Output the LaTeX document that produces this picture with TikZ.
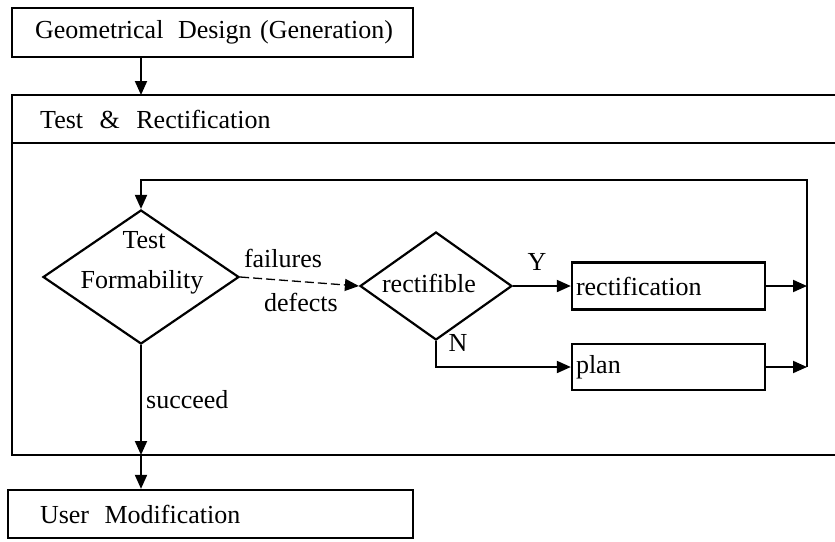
\documentclass[tikz,border=0pt]{standalone}
\usepackage{fontspec}
\setmainfont{Liberation Serif}
\usetikzlibrary{shapes.geometric,arrows.meta,calc}

\begin{document}
\begin{tikzpicture}[x=1pt,y=-1pt,
  every node/.style={font=\fontsize{26}{31}\selectfont, inner sep=0pt},
  box/.style={draw, line width=2.3pt, rectangle},
  decision/.style={draw, line width=2.2pt, diamond, inner sep=0pt},
  frame/.style={line width=2.5pt},
  link/.style={line width=1.9pt, -{Triangle[length=14pt,width=12pt]}},
  lbl/.style={anchor=center}
]
\useasboundingbox (0,0) rectangle (835,541);

% top and bottom process boxes
\node[box, minimum width=401pt, minimum height=49pt, inner xsep=23pt] (gd) at (212.5,32.5)
  {\makebox[355pt][l]{Geometrical\hspace{8pt} Design\hspace{2pt} (Generation)}};
\node[box, minimum width=405pt, minimum height=48pt, inner xsep=32pt] (um) at (210.5,514)
  {\makebox[341pt][l]{User\hspace{9pt} Modification}};

% enclosing frame of the test stage
\draw[frame] (835,95) -- (12,95) -- (12,455) -- (835,455);
\draw[frame] (12,143) -- (835,143);
\node[anchor=west] (hdr) at (40,119) {Test\hspace{10pt} \&\hspace{10pt} Rectification};

% decisions
\node[decision, minimum width=196pt, minimum height=134pt] (d1) at (141,277) {};
\node[anchor=base] (t1) at (144,248) {Test};
\node[anchor=base] (t2) at (142,288) {Formability};

\node[decision, minimum width=152pt, minimum height=108pt] (d2) at (436,286) {};
\node[lbl] (t3) at (429,283) {rectifible};

% action boxes
\node[box, minimum width=193pt, minimum height=47pt, inner xsep=4pt] (rc) at (668.5,286)
  {\makebox[185pt][l]{rectification}};
\node[box, minimum width=193pt, minimum height=46pt, inner xsep=4pt] (pl) at (668.5,367)
  {\makebox[185pt][l]{plan}};

% helper points
\coordinate (topin) at (141,95);
\coordinate (fbl) at (141,180);
\coordinate (fbr) at (807,180);
\coordinate (outb) at (141,455);

% connectors
\draw[link] (gd.south -| topin) -- (topin);
\draw[link] (pl.east -| fbr) -- (fbr) -- (fbl) -- (d1.north);
\draw[link] (rc.east) -- (rc.east -| fbr);
\draw[link] (pl.east) -- (pl.east -| fbr);
\draw[link, line width=1.3pt, dash pattern=on 9pt off 4pt] (d1.east) -- (d2.west);
\draw[link] (d2.east) -- (rc.west);
\draw[link] (d2.south) |- (pl.west);
\draw[link] (d1.south) -- (outb);
\draw[link] (outb) -- (um.north -| outb);

% connector labels
\node[lbl] (lf) at (283,258) {failures};
\node[lbl] (ld) at (301,302) {defects};
\node[lbl] (ly) at (537,262) {Y};
\node[lbl] (ln) at (458,343) {N};
\node[anchor=west] (ls) at (146,400) {succeed};
\end{tikzpicture}
\end{document}
